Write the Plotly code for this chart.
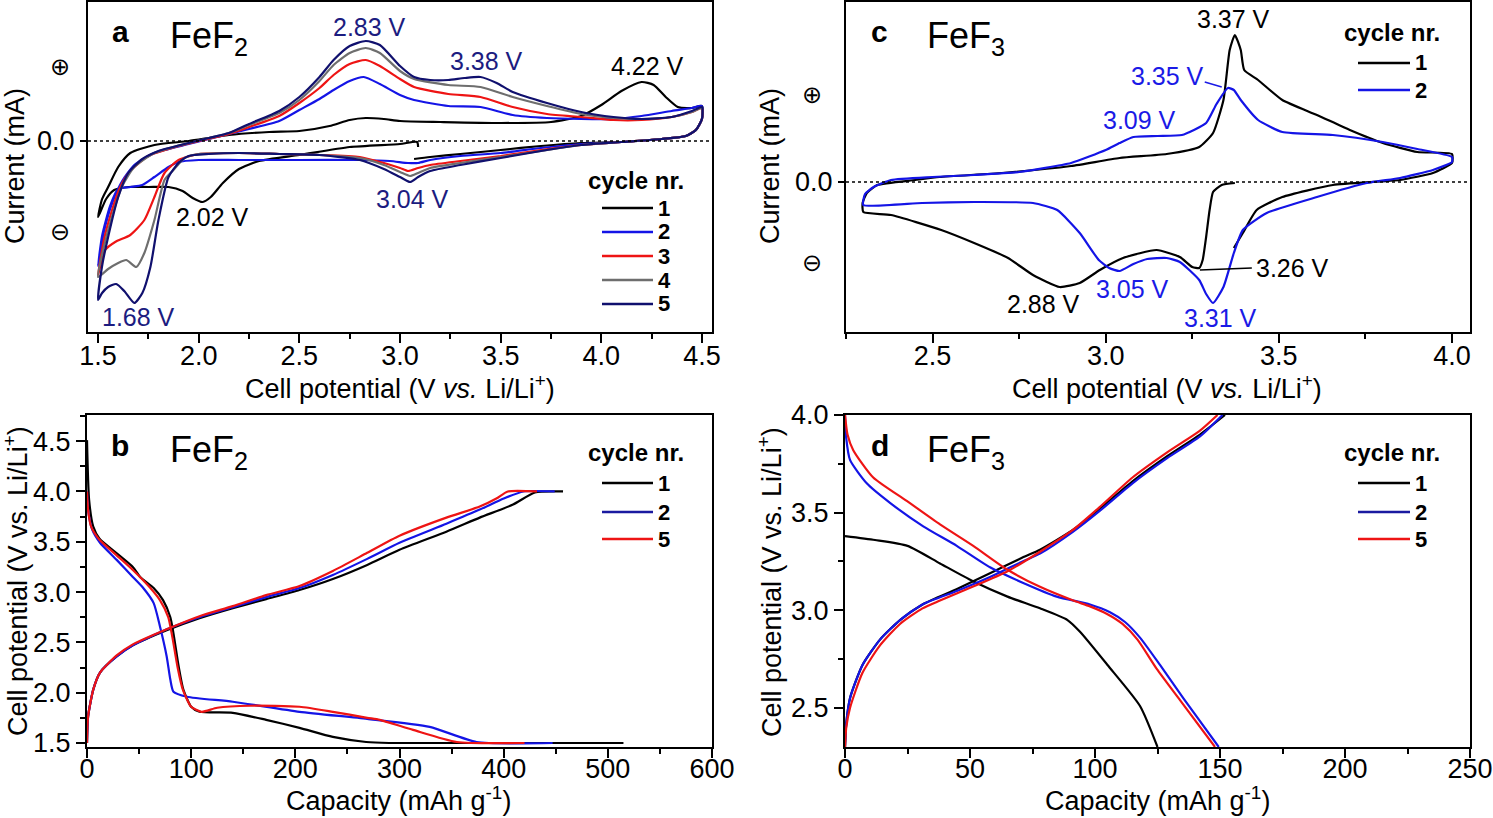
import plotly.graph_objects as go

W, H = 1493, 818
FONT = "Liberation Sans, Arial, Helvetica, sans-serif"
SYM_FONT = "DejaVu Sans"

BLACK = "#000000"
BLUE = "#1414e6"
RED = "#ee1414"
GRAY = "#6e6e6e"
NAVY = "#10106e"
NAVY_TXT = "#1c1c80"
BLUE_TXT = "#1a1ae6"

# ---------------- Panel a : CV of FeF2 (potential V, current a.u.) ----------------
a_c1_v = [3.09, 3.085, 3.0, 2.75, 2.5, 2.3, 2.2, 2.12, 2.06, 2.02, 1.97, 1.92, 1.85, 1.75, 1.65, 1.58, 1.54, 1.50,
          1.52, 1.55, 1.60, 1.66, 1.78, 1.95, 2.15, 2.35, 2.5, 2.65, 2.75, 2.83, 2.92, 3.0, 3.2, 3.5, 3.75, 3.9, 4.0, 4.1,
          4.2, 4.26, 4.32, 4.38, 4.45, 4.5,
          4.5, 4.47, 4.42, 4.3, 4.1, 3.9, 3.7, 3.5, 3.3, 3.15, 3.07]
a_c1_i = [-0.06, -0.01, -0.03, -0.06, -0.14, -0.20, -0.28, -0.42, -0.56, -0.61, -0.57, -0.50, -0.46, -0.46, -0.46, -0.49, -0.58, -0.76,
          -0.58, -0.46, -0.26, -0.12, -0.04, 0.0, 0.06, 0.09, 0.10, 0.15, 0.21, 0.23, 0.22, 0.20, 0.19, 0.18, 0.19, 0.25, 0.36, 0.50,
          0.59, 0.56, 0.44, 0.34, 0.33, 0.35,
          0.22, 0.11, 0.05, 0.02, -0.01, -0.02, -0.05, -0.09, -0.13, -0.16, -0.18]

a_c2_v = [4.5, 4.5, 4.47, 4.42, 4.3, 4.1, 3.9, 3.7, 3.5, 3.3, 3.15, 3.09, 3.04, 2.95, 2.8, 2.5, 2.2, 2.0, 1.9, 1.85,
          1.78, 1.72, 1.66, 1.6, 1.56, 1.52, 1.5,
          1.53, 1.57, 1.62, 1.68, 1.78, 1.95, 2.05, 2.25, 2.4, 2.5, 2.6, 2.67, 2.75, 2.82, 2.9, 3.0, 3.07, 3.24, 3.4, 3.56,
          3.73, 3.9, 4.06, 4.2, 4.35, 4.45, 4.5]
a_c2_i = [0.35, 0.22, 0.11, 0.05, 0.02, -0.01, -0.03, -0.07, -0.12, -0.15, -0.19, -0.22, -0.22, -0.20, -0.19, -0.19, -0.19, -0.19, -0.21, -0.26,
          -0.36, -0.44, -0.46, -0.48, -0.65, -0.95, -1.25,
          -0.90, -0.62, -0.40, -0.24, -0.12, -0.03, 0.02, 0.12, 0.20, 0.31, 0.42, 0.51, 0.60, 0.64, 0.57, 0.46, 0.41, 0.35, 0.34, 0.26,
          0.23, 0.22, 0.22, 0.25, 0.30, 0.33, 0.35]

a_c3_v = [4.5, 4.5, 4.47, 4.42, 4.3, 4.1, 3.9, 3.7, 3.5, 3.3, 3.15, 3.09, 3.04, 3.0, 2.92, 2.8, 2.6, 2.4, 2.2, 2.0,
          1.9, 1.83, 1.78, 1.73, 1.66, 1.585, 1.535, 1.5,
          1.53, 1.565, 1.61, 1.66, 1.75, 1.9, 2.0, 2.15, 2.25, 2.4, 2.5, 2.6, 2.67, 2.75, 2.83, 2.9, 3.0, 3.07, 3.24, 3.4,
          3.56, 3.73, 3.9, 4.06, 4.2, 4.35, 4.45, 4.5]
a_c3_i = [0.33, 0.22, 0.11, 0.05, 0.02, -0.01, -0.04, -0.09, -0.15, -0.20, -0.24, -0.27, -0.30, -0.27, -0.22, -0.16, -0.14, -0.13, -0.12, -0.13,
          -0.19, -0.32, -0.56, -0.79, -0.94, -1.01, -1.09, -1.34,
          -0.98, -0.72, -0.46, -0.30, -0.15, -0.05, 0.0, 0.07, 0.14, 0.25, 0.38, 0.53, 0.66, 0.77, 0.81, 0.75, 0.62, 0.54, 0.47, 0.44,
          0.34, 0.27, 0.24, 0.21, 0.21, 0.24, 0.29, 0.33]

a_c4_v = [4.5, 4.5, 4.47, 4.42, 4.3, 4.1, 3.9, 3.7, 3.5, 3.3, 3.15, 3.09, 3.05, 3.0, 2.92, 2.8, 2.6, 2.4, 2.2, 2.0,
          1.93, 1.87, 1.83, 1.78, 1.73, 1.69, 1.64, 1.6, 1.55, 1.5,
          1.53, 1.57, 1.62, 1.68, 1.78, 1.95, 2.05, 2.15, 2.25, 2.4, 2.5, 2.6, 2.67, 2.75, 2.83, 2.9, 3.0, 3.07, 3.24, 3.4,
          3.56, 3.73, 3.9, 4.06, 4.2, 4.35, 4.45, 4.5]
a_c4_i = [0.33, 0.22, 0.11, 0.05, 0.02, -0.01, -0.04, -0.10, -0.16, -0.22, -0.27, -0.32, -0.35, -0.31, -0.24, -0.17, -0.14, -0.13, -0.12, -0.13,
          -0.17, -0.30, -0.39, -0.79, -1.12, -1.26, -1.19, -1.22, -1.28, -1.36,
          -1.05, -0.75, -0.45, -0.26, -0.12, -0.02, 0.03, 0.08, 0.16, 0.28, 0.41, 0.60, 0.76, 0.88, 0.93, 0.88, 0.70, 0.62, 0.56, 0.54,
          0.44, 0.35, 0.27, 0.23, 0.22, 0.24, 0.29, 0.33]

a_c5_v = [4.5, 4.5, 4.47, 4.42, 4.3, 4.1, 3.9, 3.7, 3.5, 3.3, 3.15, 3.09, 3.05, 3.0, 2.92, 2.8, 2.6, 2.4, 2.2, 2.05,
          1.95, 1.9, 1.85, 1.8, 1.76, 1.72, 1.68, 1.63, 1.59, 1.55, 1.52, 1.5,
          1.52, 1.55, 1.6, 1.65, 1.72, 1.8, 1.95, 2.05, 2.15, 2.25, 2.4, 2.5, 2.6, 2.67, 2.75, 2.83, 2.9, 3.0, 3.07, 3.15,
          3.24, 3.32, 3.4, 3.48, 3.56, 3.73, 3.9, 4.06, 4.2, 4.35, 4.45, 4.5]
a_c5_i = [0.34, 0.22, 0.11, 0.05, 0.02, -0.01, -0.04, -0.10, -0.17, -0.24, -0.30, -0.36, -0.41, -0.36, -0.28, -0.19, -0.14, -0.13, -0.12, -0.13,
          -0.15, -0.22, -0.36, -0.79, -1.26, -1.52, -1.62, -1.50, -1.43, -1.46, -1.52, -1.59,
          -1.25, -0.96, -0.56, -0.32, -0.18, -0.10, -0.02, 0.03, 0.08, 0.17, 0.30, 0.44, 0.64, 0.81, 0.95, 1.00, 0.96, 0.75, 0.64, 0.61,
          0.61, 0.63, 0.64, 0.58, 0.49, 0.38, 0.29, 0.24, 0.22, 0.24, 0.30, 0.34]

# ---------------- Panel c : CV of FeF3 ----------------
c_c1_v = [3.373, 3.335, 3.31, 3.30, 3.29, 3.28, 3.27, 3.25, 3.214, 3.147, 3.05, 2.983, 2.925, 2.867, 2.79, 2.718, 2.62, 2.525, 2.38, 2.30,
          2.298, 2.31, 2.34, 2.45, 2.52, 2.7, 2.9, 3.04, 3.176, 3.27, 3.31, 3.34, 3.358, 3.373, 3.39, 3.40, 3.44, 3.51, 3.61, 3.705,
          3.80, 3.90, 4.0,
          4.0, 3.945, 3.85, 3.656, 3.51, 3.436, 3.396, 3.37]
c_c1_i = [-0.01, -0.03, -0.10, -0.28, -0.55, -0.78, -0.86, -0.85, -0.75, -0.68, -0.76, -0.88, -1.01, -1.05, -0.93, -0.76, -0.61, -0.48, -0.33, -0.30,
          -0.21, -0.11, -0.03, 0.02, 0.05, 0.09, 0.16, 0.24, 0.28, 0.35, 0.49, 0.82, 1.32, 1.47, 1.32, 1.12, 1.02, 0.82, 0.67, 0.52,
          0.39, 0.30, 0.28,
          0.19, 0.09, 0.02, -0.03, -0.15, -0.28, -0.51, -0.66]

c_c2_v = [3.37, 3.34, 3.31, 3.29, 3.27, 3.214, 3.176, 3.12, 3.08, 3.04, 3.01, 2.98, 2.925, 2.86, 2.79, 2.62, 2.47, 2.30,
          2.305, 2.33, 2.38, 2.5, 2.62, 2.75, 2.9, 3.0, 3.04, 3.08, 3.15, 3.22, 3.29, 3.32, 3.353, 3.37, 3.39, 3.44, 3.51, 3.656,
          3.80, 3.9, 4.0,
          4.0, 3.945, 3.85, 3.754, 3.61, 3.465, 3.396, 3.37]
c_c2_i = [-0.71, -1.05, -1.21, -1.12, -0.98, -0.80, -0.76, -0.77, -0.82, -0.89, -0.86, -0.78, -0.51, -0.28, -0.21, -0.20, -0.21, -0.23,
          -0.12, -0.05, 0.02, 0.05, 0.07, 0.10, 0.19, 0.32, 0.39, 0.45, 0.46, 0.47, 0.59, 0.78, 0.94, 0.92, 0.82, 0.62, 0.50, 0.47,
          0.40, 0.33, 0.25,
          0.20, 0.12, 0.04, -0.01, -0.15, -0.31, -0.48, -0.71]

# ---------------- Panel b : FeF2 galvanostatic (capacity mAh/g, potential V) ----------------
b_c1_dis_q = [0, 2, 6, 12, 28, 44, 51, 64, 73, 80, 83, 88, 92.5, 100, 108, 140, 172, 204, 236, 268, 290, 515]
b_c1_dis_v = [4.51, 3.92, 3.65, 3.53, 3.39, 3.25, 3.15, 3.04, 2.92, 2.75, 2.59, 2.26, 2.03, 1.86, 1.81, 1.80, 1.73, 1.65, 1.56, 1.51, 1.50, 1.50]
b_c1_chg_q = [0, 1, 6, 12.5, 28.5, 44, 76.5, 108, 140, 172, 204, 236, 269, 300, 345, 377, 409, 430, 457]
b_c1_chg_v = [1.50, 1.76, 2.03, 2.20, 2.36, 2.47, 2.62, 2.74, 2.84, 2.93, 3.02, 3.13, 3.27, 3.42, 3.60, 3.74, 3.87, 3.99, 4.00]

b_c2_dis_q = [0, 1, 5, 12.5, 28.5, 44, 54, 64, 70, 76.5, 80, 83, 96, 140, 204, 269, 329, 374, 447]
b_c2_dis_v = [4.00, 3.82, 3.62, 3.49, 3.32, 3.15, 3.04, 2.89, 2.66, 2.36, 2.13, 2.01, 1.96, 1.91, 1.81, 1.74, 1.66, 1.51, 1.50]
b_c2_chg_q = [0, 1, 6, 12.5, 28.5, 44, 76.5, 108, 140, 172, 204, 236, 269, 300, 345, 377, 400, 419, 449]
b_c2_chg_v = [1.50, 1.76, 2.03, 2.20, 2.36, 2.47, 2.63, 2.75, 2.85, 2.95, 3.04, 3.17, 3.33, 3.49, 3.68, 3.82, 3.93, 4.00, 4.00]

b_c5_dis_q = [0, 1, 4, 12, 28, 44, 60, 70, 78, 82, 87, 92, 100, 110, 125, 157, 204, 236, 269, 281, 313, 355, 420]
b_c5_dis_v = [4.00, 3.82, 3.65, 3.52, 3.37, 3.22, 3.05, 2.92, 2.75, 2.55, 2.25, 2.03, 1.86, 1.81, 1.85, 1.87, 1.86, 1.81, 1.75, 1.73, 1.63, 1.51, 1.50]
b_c5_chg_q = [0, 1, 6, 12.5, 28.5, 44, 76.5, 108, 140, 172, 204, 236, 269, 300, 345, 377, 393, 404, 432]
b_c5_chg_v = [1.50, 1.76, 2.03, 2.20, 2.37, 2.48, 2.63, 2.76, 2.86, 2.97, 3.06, 3.21, 3.39, 3.56, 3.74, 3.85, 3.93, 4.00, 4.00]

# ---------------- Panel d : FeF3 galvanostatic ----------------
d_c1_dis_q = [0, 12, 25, 38, 51, 65, 78, 89, 94, 105, 118, 125]
d_c1_dis_v = [3.38, 3.36, 3.33, 3.24, 3.15, 3.07, 3.01, 2.95, 2.89, 2.72, 2.51, 2.30]
d_c1_chg_q = [0, 0.5, 2, 7, 14, 22, 31, 45, 58, 71, 78, 91, 102, 115, 129, 142, 152]
d_c1_chg_v = [2.30, 2.42, 2.55, 2.72, 2.85, 2.95, 3.03, 3.11, 3.19, 3.27, 3.31, 3.41, 3.52, 3.66, 3.79, 3.90, 4.00]

d_c2_dis_q = [0, 0.5, 2, 8.7, 18, 31.3, 44.7, 58, 71.3, 84.7, 98, 106, 112, 118, 126, 135.3, 149.5]
d_c2_dis_v = [4.00, 3.88, 3.77, 3.65, 3.55, 3.43, 3.33, 3.22, 3.14, 3.07, 3.03, 2.99, 2.94, 2.86, 2.72, 2.55, 2.30]
d_c2_chg_q = [0, 0.5, 2, 7, 14, 22, 31, 45, 58, 71, 78, 91, 102, 115, 129, 142, 151]
d_c2_chg_v = [2.30, 2.42, 2.55, 2.72, 2.85, 2.95, 3.03, 3.10, 3.17, 3.25, 3.29, 3.40, 3.51, 3.65, 3.78, 3.89, 4.00]

d_c5_dis_q = [0, 1, 3.3, 11.3, 24.7, 38, 51.3, 64.7, 78, 91.3, 98, 105, 111, 117, 124.7, 134, 148]
d_c5_dis_v = [4.00, 3.90, 3.82, 3.68, 3.56, 3.44, 3.33, 3.21, 3.12, 3.05, 3.02, 2.98, 2.93, 2.85, 2.70, 2.54, 2.30]
d_c5_chg_q = [0, 0.5, 2, 7, 14, 22, 31, 38, 51, 65, 78, 91, 102, 115, 129, 142, 149]
d_c5_chg_v = [2.30, 2.40, 2.50, 2.68, 2.82, 2.93, 3.01, 3.05, 3.12, 3.20, 3.30, 3.41, 3.53, 3.68, 3.81, 3.92, 4.00]

# legends
legend_ab_labels = ["1", "2", "3", "4", "5"]
legend_ab_colors = [BLACK, BLUE, RED, GRAY, NAVY]
legend_c_labels = ["1", "2"]
legend_c_colors = [BLACK, BLUE]
legend_bd_labels = ["1", "2", "5"]
legend_bd_colors = [BLACK, "#1a1aa0", RED]

fig = go.Figure()


def add(x, y, color, xa, ya, smooth=0.6):
    fig.add_trace(go.Scatter(x=x, y=y, mode="lines", xaxis=xa, yaxis=ya,
                             line=dict(color=color, width=2.2, shape="spline", smoothing=smooth),
                             showlegend=False, hoverinfo="skip"))


# panel a
add(a_c1_v, a_c1_i, BLACK, "x", "y")
add(a_c2_v, a_c2_i, BLUE, "x", "y")
add(a_c3_v, a_c3_i, RED, "x", "y")
add(a_c4_v, a_c4_i, GRAY, "x", "y")
add(a_c5_v, a_c5_i, NAVY, "x", "y")
# panel b
add(b_c1_dis_q, b_c1_dis_v, BLACK, "x2", "y2")
add(b_c1_chg_q, b_c1_chg_v, BLACK, "x2", "y2")
add(b_c2_dis_q, b_c2_dis_v, BLUE, "x2", "y2")
add(b_c2_chg_q, b_c2_chg_v, BLUE, "x2", "y2")
add(b_c5_dis_q, b_c5_dis_v, RED, "x2", "y2")
add(b_c5_chg_q, b_c5_chg_v, RED, "x2", "y2")
# panel c
add(c_c1_v, c_c1_i, BLACK, "x3", "y3", 0.5)
add(c_c2_v, c_c2_i, BLUE, "x3", "y3", 0.5)
# panel d
add(d_c1_dis_q, d_c1_dis_v, BLACK, "x4", "y4")
add(d_c1_chg_q, d_c1_chg_v, BLACK, "x4", "y4")
add(d_c2_dis_q, d_c2_dis_v, BLUE, "x4", "y4")
add(d_c2_chg_q, d_c2_chg_v, BLUE, "x4", "y4")
add(d_c5_dis_q, d_c5_dis_v, RED, "x4", "y4")
add(d_c5_chg_q, d_c5_chg_v, RED, "x4", "y4")


def dx(l, r):
    return [l / W, r / W]


def dy(t, b):
    return [1 - b / H, 1 - t / H]


def axis(**kw):
    base = dict(showline=True, linecolor="black", linewidth=2, mirror=True, ticks="outside",
                tickwidth=2, tickcolor="black", ticklen=9, showgrid=False, zeroline=False, automargin=False,
                tickfont=dict(family=FONT, size=27, color="black"))
    base.update(kw)
    return base


def minor(d):
    return dict(ticks="outside", ticklen=5, tickwidth=2, tickcolor="black", dtick=d, showgrid=False)


XSTAND_TOP = -10
XSTAND_BOT = -12

fig.update_layout(
    template="none",
    width=W, height=H, margin=dict(l=0, r=0, t=0, b=0, pad=0), autosize=False,
    plot_bgcolor="white", paper_bgcolor="white",
    font=dict(family=FONT, color="black"),
    xaxis=axis(domain=dx(88, 712), range=[1.45, 4.55], tickvals=[1.5, 2.0, 2.5, 3.0, 3.5, 4.0, 4.5],
               ticktext=["1.5", "2.0", "2.5", "3.0", "3.5", "4.0", "4.5"], minor=minor(0.25), anchor="y",
               ticklabelstandoff=XSTAND_TOP),
    yaxis=axis(domain=dy(2, 332), range=[-1.91, 1.39], tickvals=[0], ticktext=["0.0"], ticklen=6, anchor="x"),
    xaxis2=axis(domain=dx(87, 712), range=[0, 600], dtick=100, minor=minor(50), anchor="y2",
                ticklabelstandoff=XSTAND_BOT),
    yaxis2=axis(domain=dy(415, 747), range=[1.46, 4.76], tickvals=[1.5, 2.0, 2.5, 3.0, 3.5, 4.0, 4.5],
                ticktext=["1.5", "2.0", "2.5", "3.0", "3.5", "4.0", "4.5"], minor=minor(0.25), anchor="x2"),
    xaxis3=axis(domain=dx(846, 1470), range=[2.25, 4.052], tickvals=[2.5, 3.0, 3.5, 4.0],
                ticktext=["2.5", "3.0", "3.5", "4.0"], minor=minor(0.25), anchor="y3",
                ticklabelstandoff=XSTAND_TOP),
    yaxis3=axis(domain=dy(2, 332), range=[-1.50, 1.80], tickvals=[0], ticktext=["0.0"], ticklen=6, anchor="x3"),
    xaxis4=axis(domain=dx(845, 1470), range=[0, 250], dtick=50, minor=minor(25), anchor="y4",
                ticklabelstandoff=XSTAND_BOT),
    yaxis4=axis(domain=dy(415, 747), range=[2.30, 4.0], tickvals=[2.5, 3.0, 3.5, 4.0],
                ticktext=["2.5", "3.0", "3.5", "4.0"], minor=minor(0.25), anchor="x4"),
)

ann = []


def ptxt(px, py, text, size, color="black", xanchor="center", angle=0, family=FONT):
    ann.append(dict(x=px / W, y=1 - py / H, xref="paper", yref="paper", text=text, showarrow=False,
                    font=dict(family=family, size=size, color=color), xanchor=xanchor, yanchor="middle",
                    textangle=angle))


def dtxt(x, y, xr, yr, text, color, size=25):
    ann.append(dict(x=x, y=y, xref=xr, yref=yr, text=text, showarrow=False,
                    font=dict(family=FONT, size=size, color=color), xanchor="center", yanchor="middle"))


# axis titles
ptxt(400, 387, "Cell potential (V <i>vs.</i> Li/Li<sup>+</sup>)", 27)
ptxt(1167, 387, "Cell potential (V <i>vs.</i> Li/Li<sup>+</sup>)", 27)
ptxt(398, 799, "Capacity (mAh g<sup>-1</sup>)", 27)
ptxt(1157, 799, "Capacity (mAh g<sup>-1</sup>)", 27)
ptxt(15, 166, "Current (mA)", 27, angle=-90)
ptxt(770, 166, "Current (mA)", 27, angle=-90)
ptxt(16, 581, "Cell potential (V vs. Li/Li<sup>+</sup>)", 27, angle=-90)
ptxt(770, 582, "Cell potential (V vs. Li/Li<sup>+</sup>)", 27, angle=-90)

# plus / minus symbols
ptxt(60, 67, "\u2295", 24, family=SYM_FONT)
ptxt(60, 232, "\u2296", 24, family=SYM_FONT)
ptxt(812, 95, "\u2295", 24, family=SYM_FONT)
ptxt(812, 263, "\u2296", 24, family=SYM_FONT)

# panel labels
ptxt(120, 31, "<b>a</b>", 30)
ptxt(168, 38, "FeF<sub>2</sub>", 36, xanchor="left")
ptxt(879, 31, "<b>c</b>", 30)
ptxt(925, 38, "FeF<sub>3</sub>", 36, xanchor="left")
ptxt(120, 445, "<b>b</b>", 30)
ptxt(168, 452, "FeF<sub>2</sub>", 36, xanchor="left")
ptxt(880, 445, "<b>d</b>", 30)
ptxt(925, 452, "FeF<sub>3</sub>", 36, xanchor="left")

# peak labels panel a
dtxt(2.848, 1.14, "x", "y", "2.83 V", NAVY_TXT)
dtxt(3.43, 0.80, "x", "y", "3.38 V", NAVY_TXT)
dtxt(4.23, 0.75, "x", "y", "4.22 V", BLACK)
dtxt(3.06, -0.58, "x", "y", "3.04 V", NAVY_TXT)
dtxt(2.067, -0.76, "x", "y", "2.02 V", BLACK)
dtxt(1.70, -1.76, "x", "y", "1.68 V", NAVY_TXT)
# peak labels panel c
dtxt(3.370, 1.63, "x3", "y3", "3.37 V", BLACK)
dtxt(3.179, 1.06, "x3", "y3", "3.35 V", BLUE_TXT)
dtxt(3.098, 0.62, "x3", "y3", "3.09 V", BLUE_TXT)
dtxt(3.54, -0.86, "x3", "y3", "3.26 V", BLACK)
dtxt(2.821, -1.22, "x3", "y3", "2.88 V", BLACK)
dtxt(3.078, -1.07, "x3", "y3", "3.05 V", BLUE_TXT)
dtxt(3.332, -1.36, "x3", "y3", "3.31 V", BLUE_TXT)

shapes = []
# dotted zero lines
shapes.append(dict(type="line", xref="x domain", yref="y", x0=0, x1=1, y0=0, y1=0,
                   line=dict(color="black", width=1.3, dash="dot")))
shapes.append(dict(type="line", xref="x3 domain", yref="y3", x0=0, x1=1, y0=0, y1=0,
                   line=dict(color="black", width=1.3, dash="dot")))
# leader lines panel c
shapes.append(dict(type="line", xref="x3", yref="y3", x0=3.286, y0=1.00, x1=3.335, y1=0.95,
                   line=dict(color=BLUE_TXT, width=1.5)))
shapes.append(dict(type="line", xref="x3", yref="y3", x0=3.272, y0=-0.88, x1=3.422, y1=-0.86,
                   line=dict(color=BLACK, width=1.5)))


def legend(cx_title, py_title, x0, x1, rows, labels, colors):
    ptxt(cx_title, py_title, "<b>cycle nr.</b>", 24)
    for r, lab, col in zip(rows, labels, colors):
        shapes.append(dict(type="line", xref="paper", yref="paper", x0=x0 / W, x1=x1 / W,
                           y0=1 - r / H, y1=1 - r / H, line=dict(color=col, width=2.5)))
        ptxt(x1 + 3, r, "<b>" + lab + "</b>", 22, xanchor="left")


legend(636, 180, 602, 653, [208, 232, 256, 280, 304], legend_ab_labels, legend_ab_colors)
legend(1392, 33, 1358, 1410, [63, 90], legend_c_labels, legend_c_colors)
legend(636, 452, 602, 653, [483, 512, 539], legend_bd_labels, legend_bd_colors)
legend(1392, 452, 1358, 1410, [483, 512, 539], legend_bd_labels, legend_bd_colors)

fig.update_layout(annotations=ann, shapes=shapes)
fig.write_html("out.html")
